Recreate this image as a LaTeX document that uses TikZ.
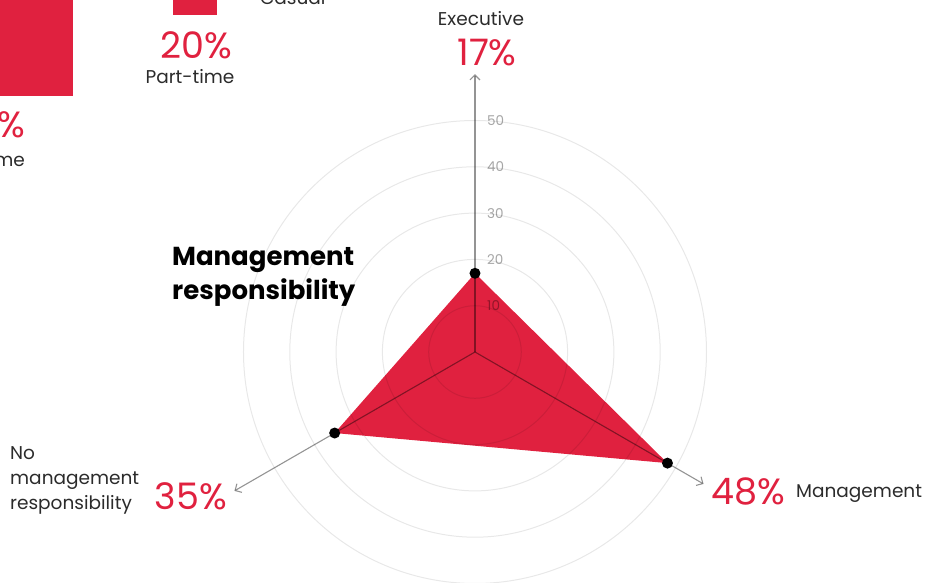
\documentclass[tikz,border=0pt]{standalone}
\usepackage{fontspec}
\setmainfont{Poppins}
\usepackage{xcolor}
\usepackage{tikz}
\usetikzlibrary{arrows.meta}
\definecolor{accent}{HTML}{E0213F}
\definecolor{ink}{HTML}{2B2B2B}
\tikzset{
  ring/.style={draw=black, draw opacity=0.09, line width=1pt},
  axis/.style={draw=black, draw opacity=0.42, line width=1.1pt, -{Straight Barb[length=5pt,width=10pt]}},
  dot/.style={circle, fill=black, inner sep=0pt, minimum size=11pt},
  lab/.style={text=ink, font=\fontsize{18.5}{25}\selectfont, inner sep=0pt},
  pct/.style={text=accent, font=\fontsize{36.5}{40}\selectfont, inner sep=0pt},
  tick/.style={text=black, text opacity=0.35, font=\fontsize{13.5}{16}\selectfont, inner sep=0pt},
}

\begin{document}
\begin{tikzpicture}[x=1pt,y=1pt]
  \useasboundingbox (-475,-231) rectangle (454,352);
  \clip (-475,-231) rectangle (454,352);
  \def\u{4.63}
  \coordinate (O) at (0,0);
  \coordinate (E) at (90:17*\u);
  \coordinate (M) at (-30:48*\u);
  \coordinate (N) at (210:35*\u);
  \coordinate (Ee) at (90:60*\u);
  \coordinate (Me) at (-30:57*\u);
  \coordinate (Ne) at (210:60*\u);

  % data area
  \fill[accent] (E) -- (M) -- (N) -- cycle;
  \foreach \r in {1,...,5}
    \draw[ring] (O) circle (\r*10*\u);
  \draw[axis] (O) -- (Ee);
  \draw[axis] (O) -- (Me);
  \draw[axis] (O) -- (Ne);
  \foreach \r in {1,...,5}
    \node[tick, anchor=west] (t\r) at (12,\r*10*\u) {\r0};
  \node[dot] (dE) at (E) {};
  \node[dot] (dM) at (M) {};
  \node[dot] (dN) at (N) {};

  % labels
  \node[lab, anchor=base] (exec) at (6,326) {Executive};
  \node[pct, anchor=base] (execv) at (12,286) {17\%};
  \node[pct, anchor=base] (mgmtv) at (273,-153) {48\%};
  \node[lab, anchor=base west] (mgmt) at (321,-146) {Management};
  \node[pct, anchor=base] (nonev) at (-284,-158) {35\%};
  \node[lab, anchor=north west, align=left] (none) at (-465,-94)
    {No\\management\\responsibility};
  \node[text=black, font=\bfseries\fontsize{26}{34}\selectfont, inner sep=0pt,
    anchor=north west, align=left] (title) at (-303,105)
    {Management\\responsibility};

  % part of the chart above
  \fill[accent] (-480,360) rectangle (-402,256);
  \node[pct, anchor=base east] (fullv) at (-450,214) {\%};
  \node[lab, anchor=base east] (full) at (-450,185) {me};
  \fill[accent] (-302,360) rectangle (-258,337);
  \node[pct, anchor=base] (partv) at (-279,293) {20\%};
  \node[lab, anchor=base] (part) at (-285,268) {Part-time};
  \node[lab, anchor=base west] (casual) at (-215,347) {Casual};
\end{tikzpicture}
\end{document}
